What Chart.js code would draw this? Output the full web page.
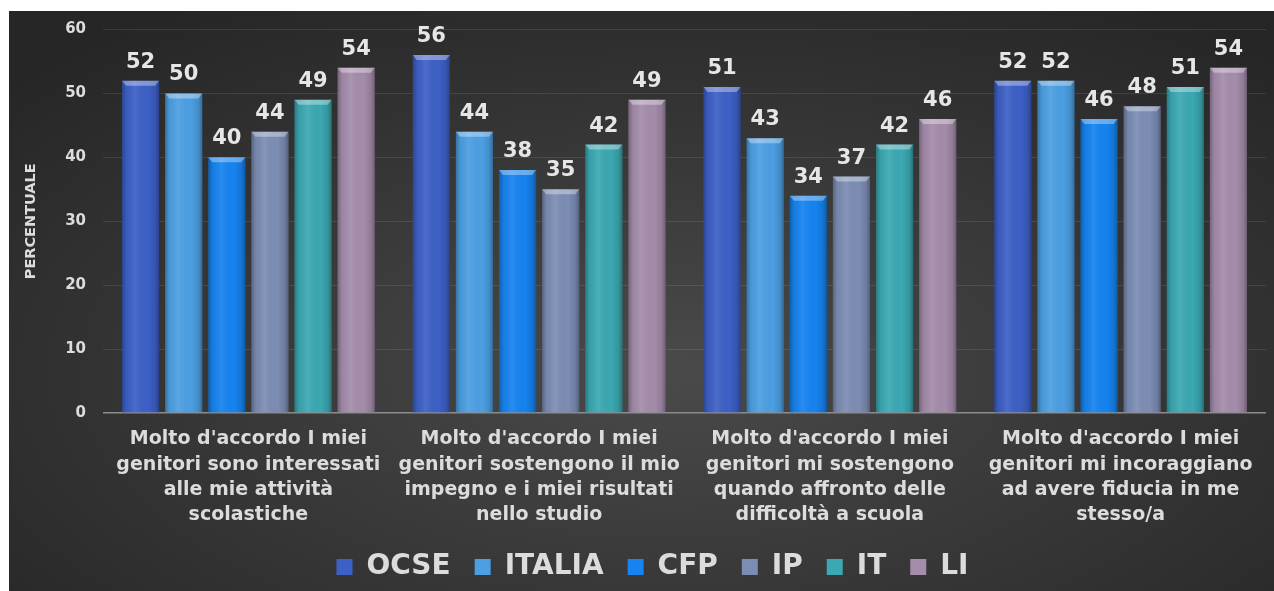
<!DOCTYPE html>
<html>
<head>
<meta charset="utf-8">
<script src="https://cdn.jsdelivr.net/npm/chart.js@4/dist/chart.umd.min.js"></script>
<style>
  html, body { margin: 0; padding: 0; background: #ffffff; }
  #wrap {
    position: absolute; left: 9px; top: 11px; width: 1265px; height: 580px;
    background: radial-gradient(ellipse 70% 75% at 52% 62%, #4a4a4a 0%, #363636 55%, #262626 100%);
  }
  canvas { display: block; }
</style>
</head>
<body>
<div id="wrap"><canvas id="c" width="1265" height="580"></canvas></div>
<script>
const categories = [
  ["Molto d'accordo I miei", "genitori sono interessati", "alle mie attività", "scolastiche"],
  ["Molto d'accordo I miei", "genitori sostengono il mio", "impegno e i miei risultati", "nello studio"],
  ["Molto d'accordo I miei", "genitori mi sostengono", "quando affronto delle", "difficoltà a scuola"],
  ["Molto d'accordo I miei", "genitori mi incoraggiano", "ad avere fiducia in me", "stesso/a"]
];
const seriesNames = ["OCSE", "ITALIA", "CFP", "IP", "IT", "LI"];
const ocse   = [52, 56, 51, 52];
const italia = [50, 44, 43, 52];
const cfp    = [40, 38, 34, 46];
const ip     = [44, 35, 37, 48];
const it     = [49, 42, 42, 51];
const li     = [54, 49, 46, 54];
const seriesColors = ["#3d60c6", "#4c9fe2", "#1683f0", "#7c8db4", "#3ba8b2", "#a48cab"];
const yTicks = [0, 10, 20, 30, 40, 50, 60];

const values = [ocse, italia, cfp, ip, it, li];
const FONT = "'DejaVu Sans', sans-serif";
const TXT = "#dcdcdc";

const barDeco = {
  id: 'barDeco',
  afterDatasetsDraw(chart) {
    const ctx = chart.ctx;
    chart.data.datasets.forEach((ds, di) => {
      const meta = chart.getDatasetMeta(di);
      meta.data.forEach((bar, i) => {
        const w = bar.width, l = bar.x - w / 2, r = bar.x + w / 2;
        const top = bar.y, base = bar.base;
        ctx.save();
        const g = ctx.createLinearGradient(l, 0, r, 0);
        g.addColorStop(0, 'rgba(0,0,0,0.28)');
        g.addColorStop(0.12, 'rgba(0,0,0,0.05)');
        g.addColorStop(0.35, 'rgba(255,255,255,0.08)');
        g.addColorStop(0.7, 'rgba(0,0,0,0.0)');
        g.addColorStop(0.9, 'rgba(0,0,0,0.12)');
        g.addColorStop(1, 'rgba(0,0,0,0.32)');
        ctx.fillStyle = g;
        ctx.fillRect(l, top, w, base - top);
        ctx.beginPath();
        ctx.moveTo(l, top);
        ctx.lineTo(r, top);
        ctx.lineTo(r - 4, top + 5);
        ctx.lineTo(l + 4, top + 5);
        ctx.closePath();
        ctx.fillStyle = 'rgba(255,255,255,0.35)';
        ctx.fill();
        ctx.fillStyle = '#e6e6e6';
        ctx.font = "bold 21px " + FONT;
        ctx.textAlign = 'center';
        ctx.textBaseline = 'alphabetic';
        ctx.fillText(String(ds.data[i]), bar.x, top - 13);
        ctx.restore();
      });
    });
  }
};

new Chart(document.getElementById('c'), {
  type: 'bar',
  data: {
    labels: categories,
    datasets: seriesNames.map((n, k) => ({
      label: n,
      data: values[k],
      backgroundColor: seriesColors[k],
      borderWidth: 0,
      categoryPercentage: 0.89,
      barPercentage: 0.86
    }))
  },
  options: {
    responsive: false,
    animation: false,
    devicePixelRatio: 1,
    layout: { padding: { top: 18.5, right: 8, left: 30, bottom: 0 } },
    plugins: {
      tooltip: { enabled: false },
      legend: {
        position: 'bottom',
        maxHeight: 64,
        labels: {
          color: TXT,
          font: { family: FONT, size: 28, weight: 'bold' },
          boxWidth: 16, boxHeight: 16,
          padding: 24
        }
      }
    },
    scales: {
      x: {
        grid: { display: false },
        border: { display: false },
        ticks: {
          color: TXT,
          font: { family: FONT, size: 19, weight: 'bold', lineHeight: 1.32 },
          padding: 6,
          maxRotation: 0, autoSkip: false
        },
        afterFit(scale) { scale.height = 116; }
      },
      y: {
        min: 0, max: 60,
        afterBuildTicks(scale) { scale.ticks = yTicks.map(v => ({ value: v })); },
        grid: {
          color: (c) => (c.tick && c.tick.value === 0) ? '#8c8c8c' : 'rgba(255,255,255,0.10)',
          lineWidth: (c) => (c.tick && c.tick.value === 0) ? 1.5 : 1,
          drawTicks: true,
          tickLength: 15,
          tickColor: 'rgba(0,0,0,0)'
        },
        border: { display: false },
        ticks: {
          color: TXT,
          font: { family: FONT, size: 15, weight: 'bold' },
          padding: 2
        },
        title: {
          display: true,
          text: 'PERCENTUALE',
          color: TXT,
          font: { family: FONT, size: 14.5, weight: 'bold' },
          padding: { top: -16, bottom: 0 }
        },
        afterFit(scale) { scale.width = 64; }
      }
    }
  },
  plugins: [barDeco]
});
</script>
</body>
</html>
